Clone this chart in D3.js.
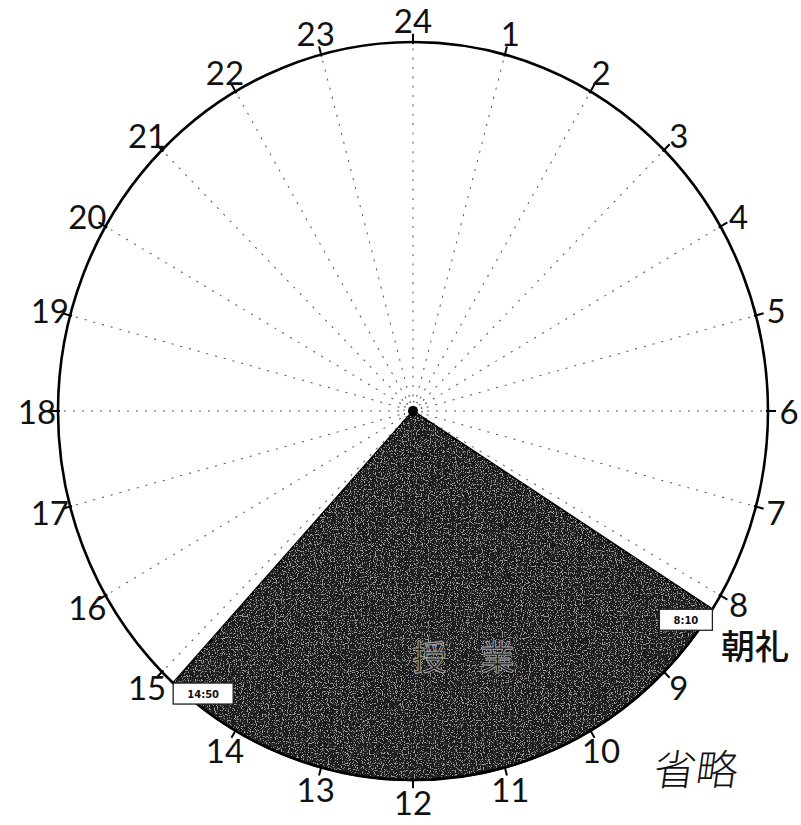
<!DOCTYPE html>
<html>
<head>
<meta charset="UTF-8">
<script src="https://cdn.jsdelivr.net/npm/d3@7"></script>
<style>
  body { margin: 0; background: #fff; }
  .hour { font-family: Lato, sans-serif; font-size: 33px; fill: #111; }
  .jp { font-family: "Noto Sans CJK JP", sans-serif; }
</style>
</head>
<body>
<svg width="801" height="825"></svg>
<script>
// hour labels around the dial
var hours = d3.range(1, 25);
// scheduled blocks
var blockNames = ["授　業"];
var blockStart = ["8:10"];
var blockEnd = ["14:50"];
// notes written beside the dial
var noteTexts = ["朝礼", "省略"];

const cx = 413, cy = 411;
const rx = 355, ry = 369;

function toHour(s) {
  var p = s.split(":");
  return +p[0] + (+p[1]) / 60;
}

// hour -> angle (radians, clockwise from top)
var ang = d3.scaleLinear().domain([0, 24]).range([0, 2 * Math.PI]);

function pt(h, dx, dy) {
  var a = ang(h);
  return [cx + (rx + dx) * Math.sin(a), cy - (ry + dy) * Math.cos(a)];
}

var svg = d3.select("svg");

// speckle filter for the scanned-looking fill
var defs = svg.append("defs");
var f = defs.append("filter").attr("id", "speckle").attr("x", 0).attr("y", 0).attr("width", 1).attr("height", 1);
f.append("feTurbulence").attr("type", "fractalNoise").attr("baseFrequency", 0.85).attr("numOctaves", 1).attr("seed", 4).attr("result", "n");
f.append("feColorMatrix").attr("in", "n").attr("type", "matrix")
  .attr("values", "0 0 0 0 1  0 0 0 0 1  0 0 0 0 1  14 0 0 0 -7.7").attr("result", "dots");
f.append("feComposite").attr("in", "dots").attr("in2", "SourceGraphic").attr("operator", "in");

var g = svg.append("g")
  .attr("transform", "translate(" + cx + "," + cy + ") scale(1," + (ry / rx) + ")");

// radial dotted lines
g.selectAll("line.spoke")
  .data(hours)
  .enter().append("line")
  .attr("class", "spoke")
  .attr("x1", d => 14 * Math.sin(ang(d)))
  .attr("y1", d => -14 * Math.cos(ang(d)))
  .attr("x2", d => rx * Math.sin(ang(d)))
  .attr("y2", d => -rx * Math.cos(ang(d)))
  .attr("stroke", "#555")
  .attr("stroke-width", 1)
  .attr("stroke-dasharray", "2,7");

// little dotted ring at the centre
g.append("circle").attr("r", 9).attr("fill", "none")
  .attr("stroke", "#444").attr("stroke-width", 1.2).attr("stroke-dasharray", "1.5,2");

// blocks
var arc = d3.arc().innerRadius(0).outerRadius(rx);
blockNames.forEach(function (name, i) {
  var a0 = ang(toHour(blockStart[i])), a1 = ang(toHour(blockEnd[i]));
  var d = arc({ startAngle: a0, endAngle: a1 });
  g.append("path").attr("d", d).attr("fill", "#1c1c1c")
    .attr("stroke", "#000").attr("stroke-width", 2);
  g.append("path").attr("d", d).attr("fill", "#fff").attr("filter", "url(#speckle)").attr("opacity", 0.55);
});

// centre dot
g.append("circle").attr("r", 5).attr("fill", "#000");

// outer ring
g.append("ellipse").attr("rx", rx).attr("ry", rx)
  .attr("fill", "none").attr("stroke", "#000").attr("stroke-width", 2.6);

// hour ticks
g.selectAll("line.tick")
  .data(hours)
  .enter().append("line")
  .attr("x1", d => (rx - 2) * Math.sin(ang(d)))
  .attr("y1", d => -(rx - 2) * Math.cos(ang(d)))
  .attr("x2", d => (rx + 8) * Math.sin(ang(d)))
  .attr("y2", d => -(rx + 8) * Math.cos(ang(d)))
  .attr("stroke", "#000").attr("stroke-width", 2);

// hour labels
svg.selectAll("text.hour")
  .data(hours)
  .enter().append("text")
  .attr("class", "hour")
  .attr("x", d => pt(d, 21, 22)[0])
  .attr("y", d => pt(d, 21, 22)[1] - (d === 8 ? 3 : 0))
  .attr("text-anchor", "middle")
  .attr("dominant-baseline", "central")
  .text(d => d);

// block names and time tags
blockNames.forEach(function (name, i) {
  var h0 = toHour(blockStart[i]), h1 = toHour(blockEnd[i]);
  var mid = pt((h0 + h1) / 2, -rx * 0.3, -ry * 0.3);
  svg.append("text").attr("class", "jp")
    .attr("x", mid[0] + 18).attr("y", mid[1] - 12)
    .attr("text-anchor", "middle").attr("dominant-baseline", "central")
    .attr("font-size", 34).attr("fill", "#1a1a1a")
    .attr("stroke", "#aaa").attr("stroke-width", 0.9)
    .text(name);

  var tags = [[blockStart[i], h0, "end"], [blockEnd[i], h1, "start"]];
  tags.forEach(function (t) {
    var p = pt(t[1], 0, 0);
    var w = t[2] === "end" ? 53 : 60, hgt = 21;
    var x0 = t[2] === "end" ? p[0] - w : p[0];
    svg.append("rect").attr("x", x0).attr("y", p[1]).attr("width", w).attr("height", hgt)
      .attr("fill", "#fff").attr("stroke", "#222").attr("stroke-width", 1.3);
    svg.append("text").attr("x", x0 + w / 2).attr("y", p[1] + hgt / 2 + 1)
      .attr("text-anchor", "middle").attr("dominant-baseline", "central")
      .attr("font-family", "'DejaVu Sans', sans-serif").attr("font-weight", "bold")
      .attr("font-size", 10).attr("fill", "#111")
      .text(t[0]);
  });
});

// side notes
svg.append("text").attr("class", "jp")
  .attr("x", 721).attr("y", 659)
  .attr("font-size", 34).attr("font-weight", 500).attr("fill", "#111")
  .text(noteTexts[0]);
svg.append("text").attr("class", "jp")
  .attr("transform", "translate(652,785) skewX(-8)")
  .attr("font-size", 42).attr("font-weight", 300).attr("fill", "#111")
  .text(noteTexts[1]);
</script>
</body>
</html>
